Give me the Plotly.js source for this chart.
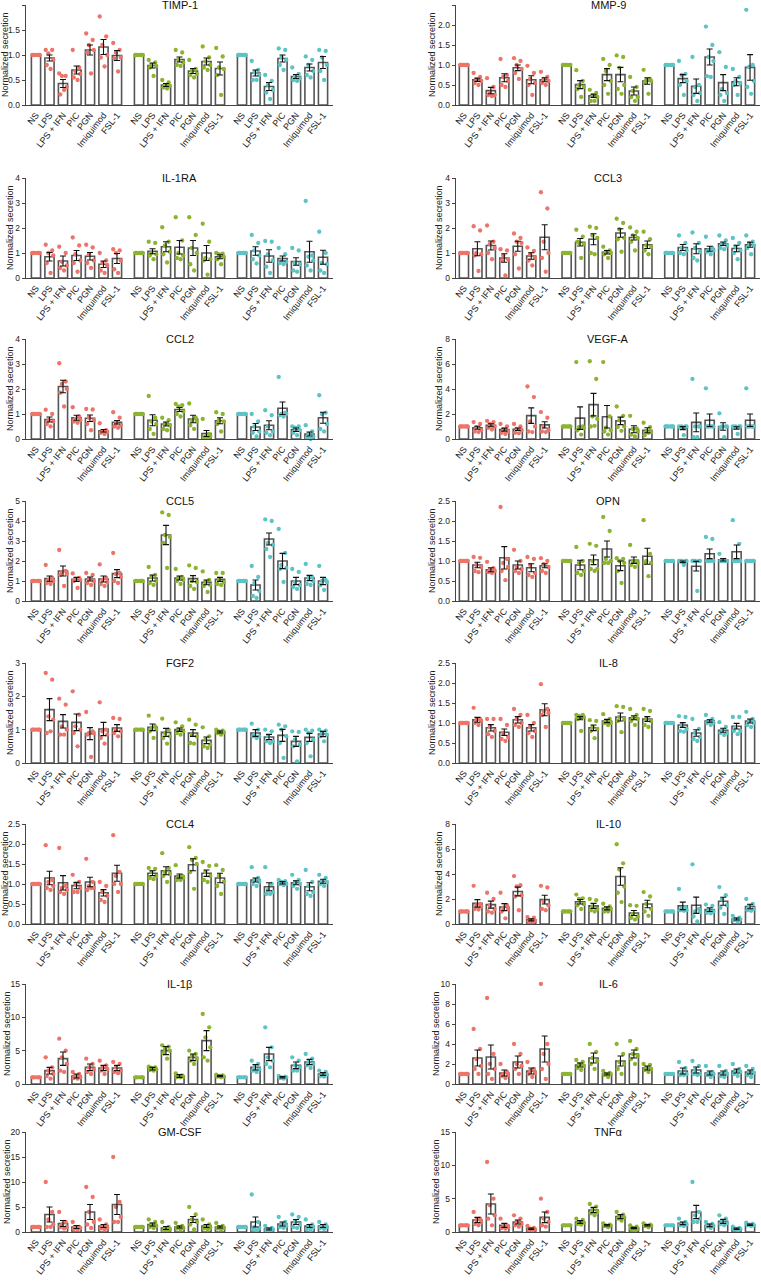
<!DOCTYPE html>
<html><head><meta charset="utf-8">
<script src="https://cdn.plot.ly/plotly-3.0.1.min.js"></script>
<style>html,body{margin:0;padding:0;background:#fff}</style>
</head><body><div id="chart" style="width:761px;height:1281px"></div>
<script>
const stimuli = ["NS","LPS","LPS + IFN","PIC","PGN","Imiquimod","FSL-1"];
const panelNames = ["TIMP-1","MMP-9","IL-1RA","CCL3","CCL2","VEGF-A","CCL5","OPN","FGF2","IL-8","CCL4","IL-10","IL-1β","IL-6","GM-CSF","TNFα"];
const yMax =   [2, 2.5, 4, 4, 4, 8, 5, 2.5, 3, 2.5, 2.5, 8, 15, 10, 20, 15];
const yStep =  [0.5,0.5, 1, 1, 1, 2, 1, 0.5, 1, 0.5, 0.5, 2, 5, 2, 5, 5];
const N1=[1,1,1,1,1,1];

const timp1Mean=[1,0.94,0.43,0.70,1.10,1.16,0.99, 1,0.79,0.40,0.91,0.68,0.87,0.73, 1,0.64,0.37,0.93,0.57,0.75,0.85];
const timp1Err=[0,0.06,0.08,0.08,0.10,0.15,0.10, 0,0.05,0.03,0.05,0.05,0.07,0.13, 0,0.06,0.08,0.07,0.04,0.07,0.12];
const timp1Pts=[N1,[1.1,1.1,1.03,0.9,0.8,0.72],[0.63,0.58,0.58,0.36,0.21,0.3],[1.1,0.75,0.68,0.62,0.55,0.5],[1.43,1.3,1.2,1.1,1.05,0.63],[1.77,1.37,1.2,1.0,0.95,0.77],[1.24,1.1,1.05,0.95,0.93,0.67],
N1,[0.9,0.85,0.8,0.78,0.75,0.58],[0.5,0.45,0.4,0.38,0.35,0.33],[1.1,1.05,0.9,0.85,0.8,0.78],[0.9,0.72,0.68,0.62,0.6,0.55],[1.17,0.95,0.87,0.8,0.75,0.7],[1.14,0.97,0.75,0.72,0.6,0.2],
N1,[0.88,0.7,0.65,0.6,0.5,0.5],[0.6,0.48,0.4,0.3,0.25,0.12],[1.13,1.1,0.95,0.9,0.8,0.7],[0.75,0.62,0.57,0.53,0.5,0.48],[0.97,0.9,0.8,0.68,0.6,0.55],[1.1,1.08,0.95,0.8,0.68,0.5]];

const mmp9Mean=[1,0.63,0.36,0.68,0.93,0.63,0.63, 1,0.51,0.23,0.76,0.76,0.35,0.60, 1,0.66,0.47,1.20,0.56,0.58,0.94];
const mmp9Err=[0,0.04,0.08,0.10,0.07,0.10,0.05, 0,0.10,0.04,0.15,0.18,0.10,0.08, 0,0.10,0.18,0.20,0.20,0.10,0.32];
const mmp9Pts=[N1,[0.8,0.7,0.65,0.6,0.55,0.5],[0.67,0.45,0.3,0.25,0.25,0.22],[1.15,0.75,0.7,0.6,0.5,0.45],[1.17,1.1,1.0,0.9,0.8,0.65],[0.98,0.8,0.65,0.55,0.5,0.25],[0.83,0.7,0.65,0.6,0.55,0.5],
N1,[0.87,0.6,0.5,0.45,0.4,0.2],[0.38,0.3,0.25,0.2,0.1,0.1],[1.15,1.0,0.85,0.6,0.5,0.28],[1.24,1.2,0.93,0.5,0.4,0.28],[0.7,0.45,0.35,0.2,0.2,0.1],[0.88,0.65,0.63,0.6,0.55,0.28],
N1,[1.1,0.78,0.75,0.6,0.5,0.25],[1.2,0.5,0.45,0.3,0.25,0.1],[1.96,1.5,1.2,1.1,0.72,0.7],[1.32,0.95,0.4,0.3,0.25,0.1],[0.9,0.7,0.6,0.55,0.5,0.25],[2.38,1.0,0.95,0.6,0.45,0.28]];

const il1raMean=[1,0.85,0.68,0.90,0.87,0.55,0.78, 1,1.07,1.25,1.23,1.20,1.00,0.85, 1,1.08,0.88,0.78,0.66,1.05,0.83];
const il1raErr=[0,0.17,0.20,0.20,0.15,0.13,0.20, 0,0.10,0.20,0.27,0.30,0.30,0.08, 0,0.17,0.25,0.10,0.15,0.42,0.28];
const il1raPts=[N1,[1.33,1.1,1.0,0.9,0.6,0.2],[1.25,1.0,0.65,0.5,0.4,0.3],[1.62,1.3,0.95,0.7,0.6,0.25],[1.33,1.22,0.95,0.7,0.6,0.4],[1.0,0.7,0.6,0.5,0.3,0.2],[1.15,1.1,1.0,0.7,0.35,0.2],
N1,[1.45,1.4,1.0,0.95,0.9,0.75],[2.03,1.45,1.3,1.05,0.95,0.62],[2.43,1.5,1.0,0.9,0.8,0.75],[2.43,1.72,1.2,1.0,0.55,0.3],[2.17,1.45,0.8,0.75,0.7,0.13],[1.0,0.97,0.95,0.85,0.75,0.55],
N1,[1.72,1.4,1.1,0.9,0.75,0.58],[1.48,1.45,0.95,0.7,0.45,0.2],[1.2,0.95,0.7,0.65,0.6,0.55],[1.2,1.1,0.6,0.55,0.3,0.25],[3.08,0.9,0.85,0.7,0.5,0.3],[1.85,1.0,0.6,0.55,0.3,0.2]];

const ccl3Mean=[1,1.17,1.30,0.80,1.27,0.88,1.63, 1,1.43,1.55,1.03,1.80,1.62,1.33, 1,1.22,1.17,1.17,1.37,1.18,1.33];
const ccl3Err=[0,0.28,0.18,0.17,0.20,0.13,0.50, 0,0.15,0.22,0.07,0.17,0.10,0.15, 0,0.12,0.20,0.10,0.07,0.13,0.10];
const ccl3Pts=[N1,[2.07,1.9,1.0,0.95,0.9,0.28],[2.1,1.45,1.35,1.2,1.0,0.75],[1.15,1.1,0.9,0.75,0.7,0.1],[1.78,1.6,1.45,1.4,0.95,0.38],[1.22,1.08,0.95,0.8,0.7,0.5],[3.43,2.78,1.45,1.0,0.8,0.25],
N1,[1.93,1.65,1.4,1.35,1.45,0.8],[2.05,2.0,1.7,1.6,1.0,0.95],[1.25,1.1,1.05,1.0,0.95,0.8],[2.37,2.2,1.95,1.6,1.55,1.05],[2.02,1.85,1.7,1.6,1.45,1.1],[1.85,1.55,1.3,1.25,1.1,0.95],
N1,[1.7,1.4,1.2,1.1,1.0,0.95],[1.82,1.4,1.2,1.05,0.8,0.7],[1.65,1.2,1.1,1.1,1.05,0.95],[1.7,1.5,1.35,1.3,1.2,1.15],[1.6,1.4,1.25,1.1,1.0,0.75],[1.7,1.45,1.4,1.3,1.2,0.95]];

const ccl2Mean=[1,0.78,2.10,0.85,0.83,0.33,0.67, 1,0.75,0.60,1.18,0.80,0.22,0.73, 1,0.48,0.55,1.23,0.37,0.20,0.85];
const ccl2Err=[0,0.10,0.25,0.10,0.13,0.05,0.07, 0,0.22,0.08,0.08,0.15,0.12,0.12, 0,0.14,0.18,0.25,0.07,0.08,0.22];
const ccl2Pts=[N1,[1.17,1.0,0.75,0.7,0.6,0.5],[3.03,2.3,2.2,2.0,1.85,1.3],[1.27,0.9,0.8,0.75,0.7,0.65],[1.2,1.18,0.85,0.75,0.6,0.35],[0.63,0.35,0.3,0.28,0.25,0.2],[1.07,0.85,0.6,0.55,0.5,0.45],
N1,[1.72,0.85,0.7,0.6,0.4,0.2],[0.85,0.75,0.6,0.55,0.4,0.35],[1.4,1.35,1.3,1.1,1.0,0.9],[1.42,0.85,0.75,0.7,0.55,0.4],[0.8,0.2,0.1,0.1,0.05,0.05],[1.07,1.0,0.75,0.7,0.6,0.3],
N1,[1.0,0.7,0.5,0.3,0.25,0.1],[1.15,0.95,0.5,0.3,0.25,0.15],[2.48,1.05,1.0,1.0,0.95,0.9],[0.5,0.5,0.45,0.35,0.25,0.15],[0.55,0.3,0.2,0.1,0.05,0.0],[1.75,1.05,1.0,0.6,0.4,0.3]];

const vegfMean=[1,0.90,1.10,0.75,0.78,1.87,1.13, 1,1.67,2.75,1.78,1.45,0.78,0.70, 1,0.87,1.33,1.50,1.00,0.88,1.50];
const vegfErr=[0,0.12,0.12,0.12,0.10,0.62,0.25, 0,0.90,0.90,0.90,0.30,0.28,0.20, 0,0.12,0.75,0.50,0.30,0.10,0.50];
const vegfPts=[N1,[1.35,1.2,0.95,0.7,0.6,0.55],[1.45,1.35,1.2,1.0,0.9,0.75],[1.2,1.0,0.75,0.6,0.5,0.4],[1.2,1.0,0.8,0.7,0.5,0.45],[4.2,3.35,1.4,1.0,0.6,0.55],[2.15,1.7,1.0,0.7,0.6,0.55],
N1,[6.15,1.0,0.95,0.85,0.7,0.35],[6.22,4.8,1.8,1.6,1.0,1.05],[6.15,1.8,0.9,0.7,0.6,0.35],[2.6,1.85,1.5,1.0,0.95,0.65],[1.85,0.85,0.8,0.6,0.35,0.2],[1.3,0.95,0.6,0.55,0.3,0.5],
N1,[1.0,1.0,1.0,1.0,0.95,0.3],[4.8,1.0,1.0,1.0,0.15,0.15],[4.05,1.0,1.0,1.0,1.0,1.0],[2.05,1.0,1.0,1.0,0.9,0.15],[1.0,1.0,1.0,1.0,0.9,0.4],[4.05,1.0,1.0,1.0,1.0,1.0]];

const ccl5Mean=[1,1.12,1.50,1.08,1.10,1.10,1.37, 1,1.15,3.30,1.15,1.12,0.93,1.08, 1,0.80,3.10,2.00,1.00,1.15,1.00];
const ccl5Err=[0,0.13,0.25,0.10,0.10,0.15,0.20, 0,0.15,0.48,0.10,0.15,0.12,0.10, 0,0.25,0.30,0.38,0.18,0.13,0.18];
const ccl5Pts=[N1,[1.8,1.15,1.05,1.0,0.9,0.85],[2.55,1.5,1.45,1.35,1.3,0.75],[1.38,1.15,1.1,1.05,1.0,0.65],[1.4,1.3,1.1,1.0,0.9,0.8],[1.83,1.15,1.05,0.95,0.85,0.75],[2.4,1.4,1.35,1.2,1.0,0.9],
N1,[1.7,1.3,1.2,1.0,0.9,0.8],[4.43,4.3,3.3,3.2,2.9,1.65],[1.6,1.2,1.15,1.05,1.0,0.85],[1.78,1.65,1.0,0.95,0.75,0.6],[1.48,1.05,0.95,0.8,0.75,0.45],[1.4,1.4,1.1,0.95,0.85,0.8],
N1,[1.75,1.2,0.9,0.5,0.25,0.15],[4.08,4.0,2.9,2.8,2.6,2.2],[3.6,2.4,1.8,1.65,1.6,0.95],[1.6,1.45,0.95,0.8,0.7,0.6],[1.85,1.2,1.15,1.0,0.85,0.8],[1.75,1.05,1.0,0.95,0.8,0.55]];

const opnMean=[1,0.90,0.78,1.08,0.90,0.83,0.88, 1,0.90,1.03,1.30,0.88,1.02,1.12, 1,0.98,0.87,1.18,1.03,1.23,1.00];
const opnErr=[0,0.07,0.05,0.28,0.10,0.10,0.05, 0,0.12,0.12,0.20,0.12,0.08,0.20, 0,0.02,0.12,0.12,0.03,0.17,0];
const opnPts=[N1,[1.1,1.08,0.9,0.85,0.75,0.72],[0.98,0.82,0.78,0.75,0.72,0.7],[2.35,1.05,0.95,0.85,0.75,0.52],[1.28,1.0,0.85,0.8,0.75,0.7],[1.1,1.05,0.9,0.7,0.65,0.6],[1.07,1.0,0.92,0.85,0.75,0.7],
N1,[1.35,1.0,0.95,0.75,0.7,0.65],[1.43,1.38,1.0,0.8,0.8,0.75],[2.1,1.75,1.05,1.0,0.95,0.95],[1.07,1.05,1.0,0.95,0.75,0.45],[1.4,1.0,1.0,0.95,0.9,0.85],[2.02,1.18,1.0,0.95,0.95,0.62],
N1,[1.0,1.0,1.0,1.0,1.0,0.9],[1.0,1.0,1.0,1.0,1.0,0.25],[1.6,1.55,1.0,1.0,1.0,1.0],[1.18,1.0,1.0,1.0,1.0,1.0],[2.02,1.43,1.0,1.0,1.0,1.0],N1];

const fgf2Mean=[1,1.60,1.25,1.22,0.88,1.02,1.05, 1,1.07,0.92,1.00,0.90,0.68,0.93, 1,0.90,0.78,0.83,0.65,0.77,0.87];
const fgf2Err=[0,0.33,0.20,0.25,0.18,0.20,0.10, 0,0.10,0.12,0.05,0.10,0.10,0.03, 0,0.10,0.08,0.18,0.15,0.12,0.08];
const fgf2Pts=[N1,[2.7,2.5,1.4,1.3,0.9,0.95],[1.93,1.75,1.1,1.0,0.85,0.85],[2.15,1.45,1.1,1.0,0.9,0.5],[1.53,0.95,0.9,0.9,0.85,0.18],[1.82,1.0,0.95,0.85,0.75,0.58],[1.35,1.32,1.0,0.95,0.9,0.8],
N1,[1.42,1.1,1.05,1.0,0.95,0.75],[1.33,1.0,0.9,0.8,0.75,0.58],[1.22,1.1,1.0,0.95,0.9,0.85],[1.3,1.15,0.85,0.8,0.6,0.58],[1.07,0.8,0.7,0.55,0.5,0.45],[1.0,0.97,0.95,0.92,0.9,0.85],
N1,[1.18,1.0,0.85,0.8,0.8,0.75],[1.0,0.95,0.8,0.65,0.65,0.6],[1.15,1.1,1.0,0.8,0.6,0.15],[0.95,0.93,0.7,0.55,0.5,0.05],[1.0,0.97,0.9,0.7,0.6,0.2],[1.0,0.97,0.92,0.85,0.8,0.65]];

const il8Mean=[1,1.08,0.88,0.77,1.08,0.88,1.33, 1,1.12,0.88,1.05,1.15,1.13,1.10, 1,0.95,0.75,1.05,0.82,0.92,1.05];
const il8Err=[0,0.06,0.08,0.08,0.08,0.08,0.15, 0,0.04,0.07,0.04,0.10,0.05,0.06, 0,0.06,0.08,0.03,0.05,0.07,0.05];
const il8Pts=[N1,[1.38,1.1,1.08,1.05,1.0,0.95],[1.1,1.1,0.9,0.8,0.72,0.65],[1.1,0.95,0.75,0.65,0.6,0.55],[1.35,1.2,1.1,1.0,0.95,0.9],[1.2,1.0,0.9,0.8,0.75,0.65],[1.97,1.35,1.3,1.25,1.2,0.9],
N1,[1.2,1.2,1.18,1.15,1.1,0.8],[1.07,1.05,0.9,0.85,0.8,0.62],[1.22,1.1,1.05,1.0,1.0,0.95],[1.42,1.4,1.15,1.1,1.05,0.77],[1.35,1.2,1.12,1.1,1.05,0.95],[1.35,1.3,1.1,1.05,0.95,0.9],
N1,[1.17,1.15,0.95,0.85,0.8,0.78],[1.1,0.85,0.75,0.65,0.6,0.55],[1.2,1.1,1.05,1.0,1.0,0.95],[1.02,0.9,0.8,0.75,0.75,0.7],[1.15,1.15,0.9,0.8,0.8,0.72],[1.28,1.1,1.05,1.0,0.95,0.9]];

const ccl4Mean=[1,1.15,1.03,0.96,1.05,0.78,1.27, 1,1.27,1.33,1.20,1.48,1.27,1.15, 1,1.10,0.93,1.03,1.03,0.93,1.07];
const ccl4Err=[0,0.17,0.18,0.08,0.12,0.08,0.20, 0,0.06,0.10,0.05,0.15,0.08,0.12, 0,0.05,0.10,0.03,0.05,0.10,0.05];
const ccl4Pts=[N1,[1.97,1.1,1.05,0.95,0.9,0.85],[1.9,0.95,0.9,0.85,0.8,0.75],[1.23,1.05,1.0,0.9,0.8,0.8],[1.63,1.05,0.95,0.9,0.85,0.9],[1.05,0.95,0.8,0.7,0.6,0.55],[2.22,1.3,1.2,1.0,1.0,0.8],
N1,[1.4,1.38,1.3,1.2,1.15,1.12],[1.77,1.4,1.3,1.25,1.2,1.05],[1.47,1.2,1.15,1.15,1.1,1.1],[1.92,1.65,1.6,1.5,1.3,0.88],[1.55,1.45,1.3,1.2,1.1,1.05],[1.47,1.35,1.2,1.05,0.95,0.75],
N1,[1.42,1.15,1.1,1.05,1.0,0.95],[1.42,1.0,0.85,0.8,0.75,0.75],[1.1,1.07,1.05,1.0,1.0,0.97],[1.23,1.1,1.05,1.0,0.95,0.88],[1.35,1.05,0.95,0.8,0.75,0.7],[1.23,1.15,1.05,1.05,1.0,0.95]];

const il10Mean=[1,1.65,1.55,1.35,2.60,0.33,1.95, 1,1.78,1.45,1.25,3.80,0.88,1.60, 1,1.45,1.50,1.15,1.82,0.40,1.40];
const il10Err=[0,0.30,0.28,0.28,0.35,0.08,0.35, 0,0.18,0.20,0.12,0.70,0.20,0.30, 0,0.30,0.65,0.15,0.32,0.08,0.18];
const il10Pts=[N1,[3.05,1.6,1.5,1.4,1.2,1.15],[2.5,2.0,1.5,1.2,1.0,0.9],[2.5,1.5,1.3,1.2,1.0,0.45],[3.83,3.1,3.0,2.3,2.2,1.1],[0.55,0.5,0.3,0.25,0.2,0.2],[3.05,2.92,1.8,1.5,1.2,1.1],
N1,[2.35,2.05,2.0,1.6,1.5,1.2],[2.0,1.9,1.4,1.2,1.1,1.0],[1.62,1.4,1.25,1.2,1.0,1.0],[6.38,4.85,4.35,3.0,2.5,1.75],[1.5,1.45,0.8,0.6,0.5,0.35],[2.55,2.2,1.6,1.2,1.0,0.65],
N1,[2.8,1.35,1.25,1.1,1.1,1.05],[4.77,1.2,1.0,0.95,0.6,0.2],[1.55,1.45,1.1,1.0,0.9,0.85],[2.95,2.3,1.95,1.5,1.3,0.8],[0.65,0.5,0.4,0.35,0.3,0.2],[2.0,1.6,1.4,1.2,1.1,1.05]];

const il1bMean=[1,2.0,3.8,1.2,2.5,2.4,2.4, 1,2.3,5.0,1.2,4.0,6.5,1.2, 1,2.5,4.5,1.0,2.8,3.3,1.5];
const il1bErr=[0,0.5,1.0,0.3,0.5,0.4,0.4, 0,0.2,0.6,0.2,0.5,1.5,0.1, 0,0.4,1.0,0.1,0.5,0.4,0.2];
const il1bPts=[N1,[4.0,2.5,2.0,1.5,1.2,0.8],[6.8,5.0,4.0,3.0,2.0,1.8],[1.8,1.5,1.2,1.0,0.9,0.8],[3.8,3.0,2.5,2.2,1.8,1.5],[3.5,2.8,2.5,2.2,2.0,1.5],[3.3,3.0,2.5,2.0,1.8,1.6],
N1,[2.6,2.5,2.4,2.2,2.1,2.0],[5.8,5.6,5.2,5.0,4.6,3.8],[1.6,1.3,1.2,1.1,1.0,1.0],[5.0,4.5,4.2,3.8,3.5,3.0],[10.5,8.5,7.0,5.5,4.0,3.5],[1.4,1.3,1.2,1.1,1.1,1.0],
N1,[3.5,3.0,2.5,2.2,2.0,1.8],[8.5,5.5,4.0,3.5,3.0,2.5],[1.2,1.1,1.0,1.0,0.9,0.8],[4.0,3.5,2.8,2.5,2.0,2.0],[4.5,3.8,3.3,3.0,2.8,2.4],[2.0,1.8,1.5,1.4,1.2,1.1]];

const il6Mean=[1,2.6,2.7,1.1,2.2,1.3,3.5, 1,1.9,2.6,1.0,2.3,3.0,1.6, 1,1.3,1.4,1.1,1.1,1.3,1.2];
const il6Err=[0,0.8,1.2,0.3,0.6,0.3,1.3, 0,0.2,0.5,0.1,0.5,0.4,0.2, 0,0.3,0.3,0.2,0.2,0.2,0.2];
const il6Pts=[N1,[5.5,3.5,2.5,1.8,1.5,1.0],[8.6,3.0,2.0,1.5,1.0,0.5],[2.0,1.2,1.0,0.9,0.8,0.6],[4.0,3.0,2.0,1.8,1.5,1.0],[2.2,1.5,1.3,1.1,1.0,0.7],[10.0,4.0,3.0,2.0,1.5,0.5],
N1,[2.4,2.2,2.0,1.8,1.6,1.4],[4.0,3.2,2.6,2.3,2.0,1.5],[1.3,1.1,1.0,1.0,0.9,0.7],[4.0,3.0,2.2,2.0,1.5,1.0],[4.3,3.5,3.0,2.8,2.5,2.0],[2.0,1.9,1.6,1.5,1.4,1.2],
N1,[2.2,1.6,1.2,1.0,0.9,0.9],[2.3,1.8,1.4,1.0,1.0,0.9],[1.8,1.2,1.0,1.0,0.9,0.7],[1.8,1.3,1.0,1.0,0.8,0.7],[2.0,1.5,1.3,1.2,1.0,0.8],[1.8,1.5,1.2,1.1,0.9,0.7]];

const gmcsfMean=[1,3.5,1.7,1.0,4.0,1.2,5.5, 1,1.5,0.8,1.0,2.5,1.2,1.0, 1,2.0,0.6,1.6,2.0,1.2,1.2];
const gmcsfErr=[0,1.5,0.6,0.3,1.5,0.3,2.0, 0,0.3,0.3,0.2,0.6,0.3,0.2, 0,1.0,0.2,0.4,0.5,0.3,0.3];
const gmcsfPts=[N1,[10,4,2.5,1.5,1,1],[4,2,1.5,1,1,0.7],[2,1,1,0.8,0.6,0.5],[9,7,4,2,1.5,0.8],[2.5,1.5,1,0.8,0.7,0.5],[15,6,5,3,2,2],
N1,[2.5,2,1.5,1.2,1,0.8],[2,1,0.7,0.5,0.3,0.3],[1.8,1.2,1,0.8,0.7,0.5],[5,3.5,2.5,2,1.5,0.5],[2.5,1.5,1.2,0.8,0.7,0.5],[1.8,1.2,1,0.8,0.7,0.5],
N1,[7.5,2,1,0.8,0.5,0.3],[1.2,0.8,0.6,0.5,0.3,0.2],[3,2,1.5,1.2,1,0.8],[3.5,3,2,1.5,1,0.8],[2.5,1.5,1.2,1,0.6,0.4],[2,1.5,1.2,1,0.8,0.6]];

const tnfMean=[1,1.8,4.2,1.0,1.5,0.5,2.2, 1,1.5,3.3,1.0,2.3,0.6,1.0, 1,1.3,3.0,1.0,1.6,0.5,1.1];
const tnfErr=[0,0.4,1.5,0.3,0.3,0.1,0.8, 0,0.2,0.4,0.1,0.3,0.1,0.1, 0,0.2,1.0,0.2,0.3,0.1,0.1];
const tnfPts=[N1,[3,2,1.8,1.5,1.2,1],[10.5,5,4,2.5,2,1],[2,1,0.8,0.7,0.6,0.5],[2.5,2,1.5,1.2,1,0.8],[0.9,0.6,0.5,0.4,0.3,0.2],[5,3,2,1.5,1,0.8],
N1,[2,1.8,1.5,1.4,1.2,1.1],[4.2,3.8,3.3,3,2.8,2.5],[1.3,1.1,1,1,0.9,0.7],[3,2.6,2.3,2.2,2,1.7],[1,0.8,0.6,0.5,0.4,0.3],[1.3,1.1,1,1,0.9,0.7],
N1,[2,1.5,1.3,1.1,1,0.9],[7.5,3,2.5,2,1.5,1.5],[1.5,1.2,1,0.9,0.8,0.6],[2.5,2,1.6,1.3,1.2,1],[0.8,0.6,0.5,0.4,0.4,0.3],[1.4,1.2,1.1,1,1,0.9]];

const means=[timp1Mean,mmp9Mean,il1raMean,ccl3Mean,ccl2Mean,vegfMean,ccl5Mean,opnMean,fgf2Mean,il8Mean,ccl4Mean,il10Mean,il1bMean,il6Mean,gmcsfMean,tnfMean];
const errs=[timp1Err,mmp9Err,il1raErr,ccl3Err,ccl2Err,vegfErr,ccl5Err,opnErr,fgf2Err,il8Err,ccl4Err,il10Err,il1bErr,il6Err,gmcsfErr,tnfErr];
const points=[timp1Pts,mmp9Pts,il1raPts,ccl3Pts,ccl2Pts,vegfPts,ccl5Pts,opnPts,fgf2Pts,il8Pts,ccl4Pts,il10Pts,il1bPts,il6Pts,gmcsfPts,tnfPts];

// ---- layout / style ----
const W=761,H=1281;
const colors=["#EC7469","#8CB431","#5DC3C5"];
const rowTop=[5,178,339,501,663,824,984,1132];
const plotH=100;
const colPx=[[26,333],[456,760]];
const xRanges=[[-0.74,22.0],[-0.59,22.0]];
const groupOffset=7.63;
const jitter=[-0.28,0.2,-0.08,0.28,-0.2,0.08];
const FONT="Liberation Sans, Arial, sans-serif";

const traces=[]; const layout={width:W,height:H,margin:{l:0,r:0,t:0,b:0},showlegend:false,
  paper_bgcolor:"#fff",plot_bgcolor:"rgba(0,0,0,0)",font:{family:FONT,color:"#222"},annotations:[]};

panelNames.forEach((name,k)=>{
  const r=Math.floor(k/2), c=k%2, n=k+1, sfx=(n===1?"":String(n));
  const xa="x"+sfx, ya="y"+sfx;
  const pos=[], labels=[];
  for(let g=0;g<3;g++) for(let i=0;i<stimuli.length;i++){pos.push(g*groupOffset+i);labels.push(stimuli[i]);}
  traces.push({type:"bar",x:pos,y:means[k],width:0.68,xaxis:xa,yaxis:ya,hoverinfo:"skip",
    marker:{color:"#fff",line:{color:"#555",width:1.6}}});
  const px=[],py=[],pc=[];
  points[k].forEach((arr,j)=>arr.forEach((v,m)=>{px.push(pos[j]+jitter[m]);py.push(v);pc.push(colors[Math.floor(j/7)]);}));
  traces.push({type:"scatter",mode:"markers",x:px,y:py,xaxis:xa,yaxis:ya,cliponaxis:false,hoverinfo:"skip",
    marker:{color:pc,size:4.3,line:{width:0}}});
  const ex=[],ey=[],ee=[];
  errs[k].forEach((e,j)=>{if(e>0){ex.push(pos[j]);ey.push(means[k][j]);ee.push(e);}});
  traces.push({type:"scatter",mode:"markers",x:ex,y:ey,xaxis:xa,yaxis:ya,hoverinfo:"skip",
    marker:{size:2,opacity:0},error_y:{type:"data",array:ee,visible:true,color:"#111",thickness:1.1,width:3}});
  const top=rowTop[r], bot=top+plotH;
  const isDec = yStep[k]<1;
  layout["xaxis"+sfx]={domain:[colPx[c][0]/W,colPx[c][1]/W],range:xRanges[c],anchor:ya,
    tickmode:"array",tickvals:pos,ticktext:labels,tickangle:-52,tickfont:{size:9,family:FONT,color:"#222"},
    showline:true,linecolor:"#444",linewidth:1.4,ticks:"",showgrid:false,zeroline:false,fixedrange:true};
  layout["yaxis"+sfx]={domain:[1-bot/H,1-top/H],range:[0,yMax[k]],anchor:xa,dtick:yStep[k],tick0:0,
    tickformat:isDec?".1f":"d",ticks:"outside",ticklen:3,tickwidth:1,tickcolor:"#444",
    tickfont:{size:8.5,family:FONT,color:"#222"},showline:true,linecolor:"#444",linewidth:1.4,
    showgrid:false,zeroline:false,fixedrange:true};
  layout.annotations.push({text:name,xref:"paper",yref:"paper",x:(colPx[c][0]+colPx[c][1])/2/W,y:1-top/H,
    xanchor:"center",yanchor:"middle",showarrow:false,font:{size:11,family:FONT,color:"#111"}});
  const ytx = c===0 ? (isDec?5:(yMax[k]>=10?7:10)) : (isDec?432:(yMax[k]>=10?436:439));
  layout.annotations.push({text:"Normalized secretion",xref:"paper",yref:"paper",x:ytx/W,y:1-(top+plotH/2)/H,
    xanchor:"center",yanchor:"middle",textangle:-90,showarrow:false,font:{size:9,family:FONT,color:"#222"}});
});

Plotly.newPlot("chart",traces,layout,{staticPlot:true,displayModeBar:false});
</script></body></html>
